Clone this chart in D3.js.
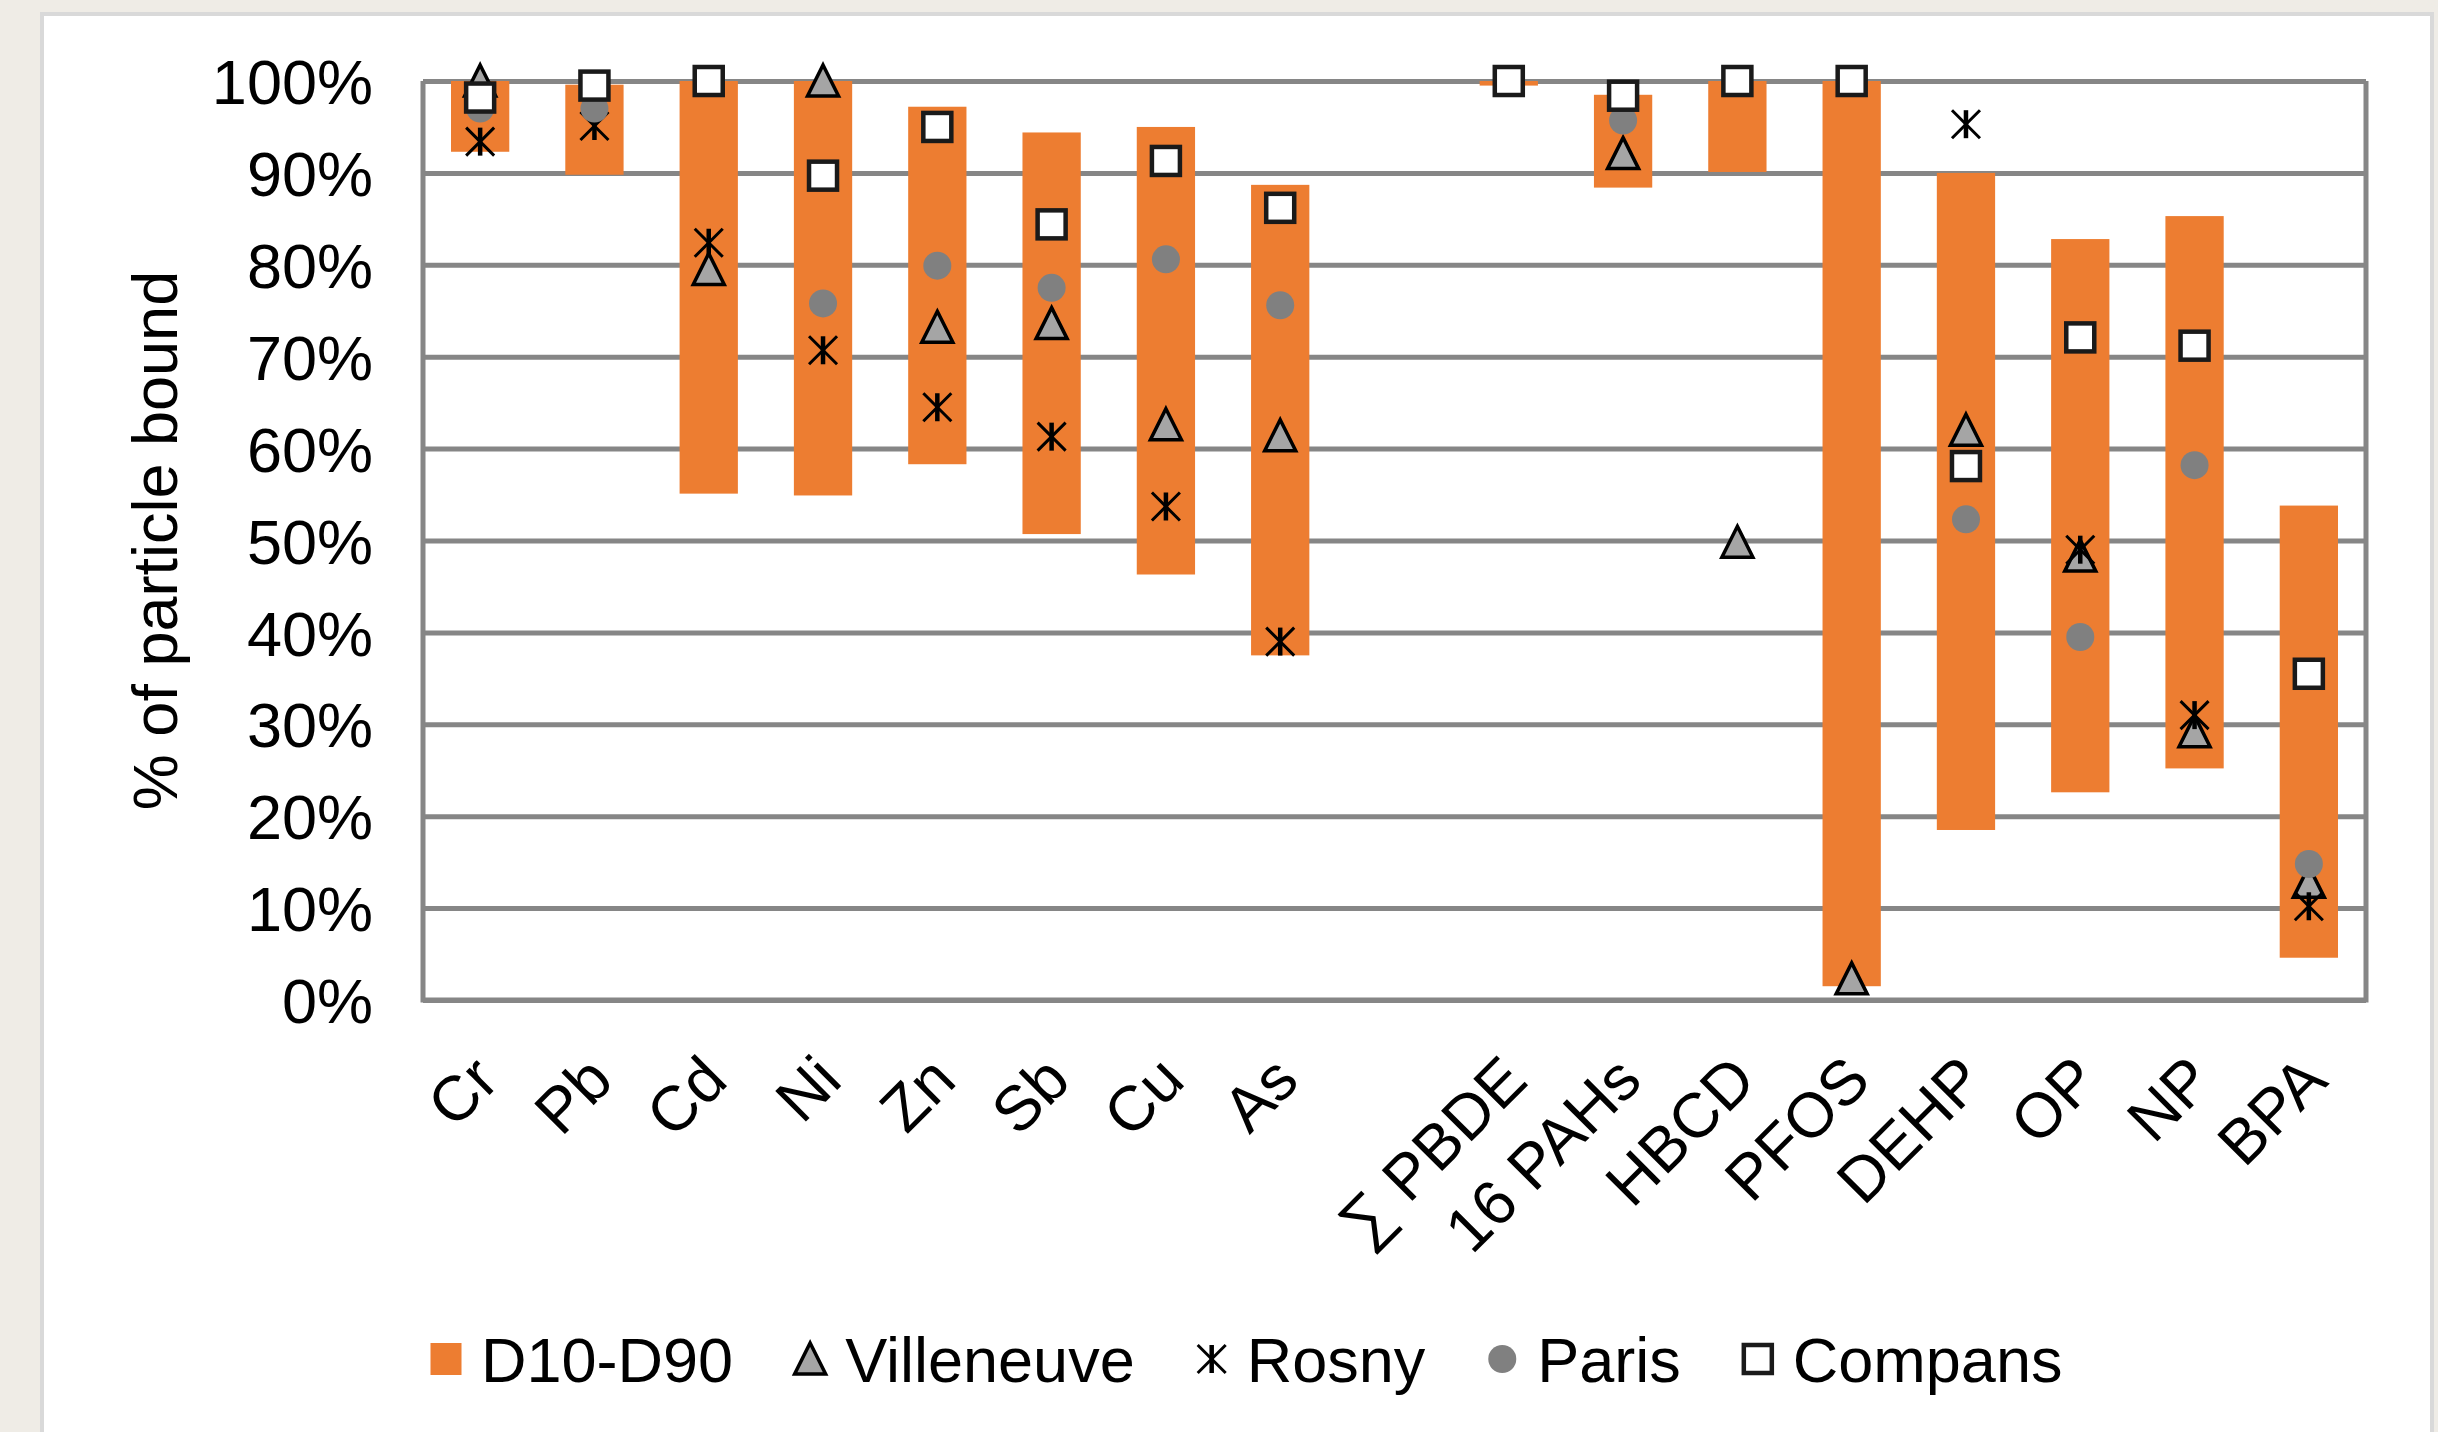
<!DOCTYPE html>
<html><head><meta charset="utf-8">
<script src="https://cdn.jsdelivr.net/npm/d3@7"></script>
<style>
html,body{margin:0;padding:0;background:#EFECE6;}
svg{display:block;}
text{font-family:"Liberation Sans",Arial,sans-serif;fill:#000;}
</style></head>
<body>
<svg id="chart" width="2438" height="1432"></svg>
<script>
// ---- data (values in % of particle bound) ----
const categories = ["Cr","Pb","Cd","Ni","Zn","Sb","Cu","As","","∑ PBDE","16 PAHs","HBCD","PFOS","DEHP","OP","NP","BPA"];
const d10 = [92.3, 89.8, 55.1, 54.9, 58.3, 50.7, 46.3, 37.5, null, 99.5, 88.4, 90.1, 1.5, 18.5, 22.6, 25.2, 4.6];
const d90 = [100, 99.6, 100, 100, 97.2, 94.4, 95.0, 88.7, null, 100, 98.5, 100, 100, 90.0, 82.8, 85.3, 53.8];
const villeneuve = [100, null, 79.5, 100, 73.2, 73.6, 62.6, 61.4, null, null, 92.1, 49.8, 2.3, 62.0, 48.3, 29.2, 12.8];
const rosny = [93.4, 95.1, 82.4, 70.7, 64.5, 61.3, 53.7, 39.0, null, null, null, null, null, 95.3, 49.0, 31.0, 10.2];
const paris = [97.0, 97.0, null, 75.8, 79.9, 77.5, 80.6, 75.6, null, null, 95.7, null, null, 52.3, 39.5, 58.2, 14.8];
const compans = [98.2, 99.5, 100, 89.7, 95.0, 84.4, 91.3, 86.2, null, 100, 98.4, 100, 100, 58.1, 72.1, 71.2, 35.5];
const yTicks = [0,10,20,30,40,50,60,70,80,90,100];
const seriesNames = ["D10-D90","Villeneuve","Rosny","Paris","Compans"];

const svg = d3.select("#chart");
const W = 2438, H = 1432;
const plot = {left:423, right:2366, top:81, bottom:1000};
const FONT = 63;
const ORANGE = "#ED7D31", GRID = "#868686";

// background panel
svg.append("rect").attr("x",0).attr("y",0).attr("width",W).attr("height",H).attr("fill","#EFECE6");
svg.append("rect").attr("x",42).attr("y",14).attr("width",2390).attr("height",H).attr("fill","#fff")
  .attr("stroke","#D9D9D9").attr("stroke-width",4);

const x = d3.scaleBand().domain(categories).range([plot.left, plot.right]).paddingInner(0.49).paddingOuter(0.245);
const y = d3.scaleLinear().domain([0,100]).range([plot.bottom, plot.top]);

// gridlines
const grid = svg.append("g").attr("transform",`translate(${plot.left},0)`)
  .call(d3.axisLeft(y).tickValues(yTicks).tickSize(-(plot.right-plot.left)).tickFormat(""));
grid.select(".domain").remove();
grid.selectAll("line").attr("stroke",GRID).attr("stroke-width",5);

// plot border (left, right, bottom)
svg.append("path").attr("d",`M${plot.left},${plot.top}V${plot.bottom}H${plot.right}V${plot.top}`)
  .attr("fill","none").attr("stroke",GRID).attr("stroke-width",5);

// y tick labels
const yAx = svg.append("g").attr("transform",`translate(${plot.left},0)`)
  .call(d3.axisLeft(y).tickValues(yTicks).tickSize(0).tickPadding(50).tickFormat(d=>d+"%"));
yAx.select(".domain").remove();
yAx.selectAll("text").attr("font-size",FONT).attr("font-family","Liberation Sans, Arial, sans-serif").attr("fill","#000").attr("dy","0.36em");

// y title
svg.append("text").attr("transform",`translate(177,${(plot.top+plot.bottom)/2}) rotate(-90)`)
  .attr("text-anchor","middle").attr("font-size",FONT).text("% of particle bound");

// x labels
const xAx = svg.append("g").attr("transform",`translate(0,${plot.bottom})`)
  .call(d3.axisBottom(x).tickSize(0));
xAx.select(".domain").remove();
xAx.selectAll("text").attr("font-size",FONT).attr("font-family","Liberation Sans, Arial, sans-serif").attr("fill","#000")
  .attr("text-anchor","end").attr("x",0).attr("y",0).attr("dy","0.7em")
  .attr("transform","translate(-10,52) rotate(-45)");

// bars
const idx = d3.range(categories.length);
svg.append("g").selectAll("rect").data(idx.filter(i=>d10[i]!=null)).join("rect")
  .attr("x",i=>x(categories[i])).attr("width",x.bandwidth())
  .attr("y",i=>y(d90[i])).attr("height",i=>y(d10[i])-y(d90[i]))
  .attr("fill",ORANGE);

// marker shapes
const triPath = "M0,-16L15.5,15L-15.5,15Z";
const starPath = "M-14,-14L14,14M14,-14L-14,14";
function drawTri(g){ g.append("path").attr("d",triPath).attr("fill","#A5A5A5").attr("stroke","#000").attr("stroke-width",3.5).attr("stroke-linejoin","miter"); }
function drawStar(g){
  g.append("path").attr("d",starPath).attr("stroke","#000").attr("stroke-width",3).attr("fill","none");
  g.append("path").attr("d","M0,-14V14").attr("stroke","#000").attr("stroke-width",4.5);
}
function drawCircle(g){ g.append("circle").attr("r",14).attr("fill","#808080"); }
function drawSquare(g){ g.append("rect").attr("x",-14).attr("y",-14).attr("width",28).attr("height",28).attr("fill","#fff").attr("stroke","#1a1a1a").attr("stroke-width",4.5); }

const cx = i => x(categories[i]) + x.bandwidth()/2;
function series(arr, draw){
  const g = svg.append("g");
  idx.filter(i=>arr[i]!=null).forEach(i=>{
    const m = g.append("g").attr("transform",`translate(${cx(i)},${y(arr[i])})`);
    draw(m);
  });
}
series(villeneuve, drawTri);
series(rosny, drawStar);
series(paris, drawCircle);
series(compans, drawSquare);

// legend
const legY = 1359;
const leg = svg.append("g");
const drawers = [g=>g.append("rect").attr("x",-15.5).attr("y",-16).attr("width",31).attr("height",32).attr("fill",ORANGE),
  drawTri, drawStar, drawCircle, drawSquare];
let lx = 446;
seriesNames.forEach((name,k)=>{
  const m = leg.append("g").attr("transform",`translate(${lx},${legY})`);
  drawers[k](m);
  const t = leg.append("text").attr("x",lx+35).attr("y",legY).attr("dy","0.36em").attr("font-size",FONT).text(name);
  lx = lx + 35 + t.node().getComputedTextLength() + 77;
});
</script>
</body></html>
